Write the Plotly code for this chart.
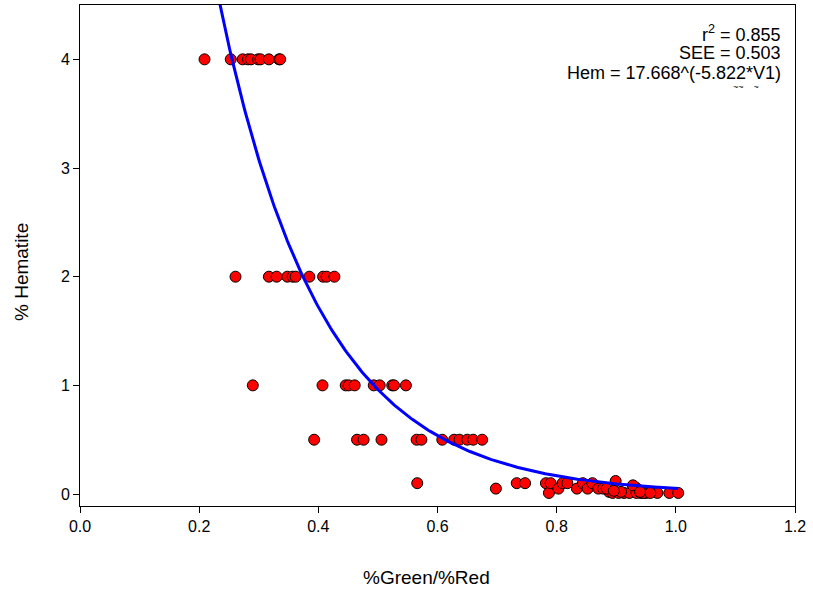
import numpy as np
import plotly.graph_objects as go

# Data: %Green/%Red ratio vs % Hematite
ratio_4 = [0.209, 0.253, 0.273, 0.282, 0.287, 0.299, 0.303, 0.317, 0.334, 0.336]
hem_4 = [4.0] * len(ratio_4)

ratio_2 = [0.261, 0.317, 0.330, 0.348, 0.357, 0.362, 0.385, 0.408, 0.414, 0.427]
hem_2 = [2.0] * len(ratio_2)

ratio_1 = [0.290, 0.407, 0.446, 0.451, 0.461, 0.493, 0.503, 0.524, 0.527, 0.547]
hem_1 = [1.0] * len(ratio_1)

ratio_05 = [0.393, 0.465, 0.476, 0.506, 0.565, 0.573, 0.608, 0.628, 0.637, 0.650, 0.660, 0.675]
hem_05 = [0.5] * len(ratio_05)

ratio_low = [0.566, 0.698, 0.733, 0.747, 0.782, 0.787, 0.790, 0.803, 0.810, 0.818,
             0.834, 0.844, 0.852, 0.860, 0.870, 0.878, 0.888, 0.899, 0.894, 0.904,
             0.913, 0.922, 0.933, 0.934, 0.941, 0.950, 0.969, 0.989, 1.004, 0.928,
             0.884, 0.908, 0.945, 0.957, 0.896, 0.940]
hem_low = [0.10, 0.05, 0.10, 0.10, 0.10, 0.01, 0.10, 0.05, 0.10, 0.10,
           0.05, 0.10, 0.05, 0.10, 0.05, 0.05, 0.02, 0.12, 0.01, 0.01,
           0.01, 0.01, 0.06, 0.01, 0.01, 0.01, 0.01, 0.01, 0.01, 0.08,
           0.05, 0.02, 0.01, 0.01, 0.03, 0.02]

ratio = ratio_4 + ratio_2 + ratio_1 + ratio_05 + ratio_low
hem = hem_4 + hem_2 + hem_1 + hem_05 + hem_low

# Fitted model Hem = 17.668 * exp(-5.822 * V1)
coef_a = 17.668
coef_b = -5.822
fit_x = np.linspace(0.20, 1.004, 300)
fit_y = coef_a * np.exp(coef_b * fit_x)

font_family = "Liberation Sans, Arial, sans-serif"

L, R, T, B = 80, 795, 5, 506

def px_x(p):
    return (p - L) / (R - L)

def px_y(p):
    return 1 - (p - T) / (B - T)

fig = go.Figure()
fig.add_trace(go.Scatter(
    x=ratio, y=hem, mode="markers",
    marker=dict(color="#ff0000", size=11, line=dict(color="black", width=1)),
    showlegend=False, cliponaxis=False,
))
fig.add_trace(go.Scatter(
    x=fit_x, y=fit_y, mode="lines",
    line=dict(color="#0000ff", width=3),
    showlegend=False,
))

fig.update_layout(
    width=813, height=595,
    margin=dict(l=L, r=813 - R, t=T, b=595 - B),
    paper_bgcolor="white", plot_bgcolor="white",
    font=dict(family=font_family, size=16, color="black"),
)
fig.update_xaxes(
    range=[0, 1.2], tickvals=[0, 0.2, 0.4, 0.6, 0.8, 1.0, 1.2], tickformat=".1f",
    showgrid=False, zeroline=False, showline=True, linecolor="black", linewidth=1,
    mirror=True, ticks="outside", ticklen=6, tickcolor="black",
    tickfont=dict(size=16),
)
fig.update_yaxes(
    range=[-0.11, 4.5], tickvals=[0, 1, 2, 3, 4],
    showgrid=False, zeroline=False, showline=True, linecolor="black", linewidth=1,
    mirror=True, ticks="outside", ticklen=6, tickcolor="black",
    tickfont=dict(size=16),
)

# Axis titles
fig.add_annotation(
    text="%Green/%Red", xref="paper", yref="paper",
    x=px_x(426), y=px_y(577), xanchor="center", yanchor="middle",
    showarrow=False, font=dict(size=19, family=font_family),
)
fig.add_annotation(
    text="% Hematite", xref="paper", yref="paper",
    x=px_x(21), y=px_y(272), xanchor="center", yanchor="middle",
    showarrow=False, textangle=-90, font=dict(size=19, family=font_family),
)

ann_lines = ["r<sup>2</sup> = 0.855", "SEE = 0.503", "Hem = 17.668^(-5.822*V1)"]
ann_y = [33, 53, 73]
for txt, yp in zip(ann_lines, ann_y):
    fig.add_annotation(
        text=txt, xref="paper", yref="paper",
        x=px_x(783), y=px_y(yp),
        xanchor="right", yanchor="middle", showarrow=False,
        font=dict(size=18, family=font_family),
    )
fig.add_annotation(
    text="~~&nbsp;&nbsp;&nbsp;&nbsp;~", xref="paper", yref="paper",
    x=px_x(761), y=px_y(87),
    xanchor="right", yanchor="middle", showarrow=False,
    font=dict(size=9, family=font_family),
)

fig.write_html("out.html")
